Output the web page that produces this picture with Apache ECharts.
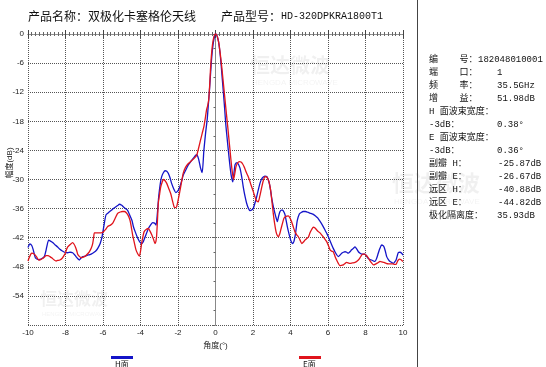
<!DOCTYPE html>
<html>
<head>
<meta charset="utf-8">
<script src="https://cdn.jsdelivr.net/npm/echarts@6/dist/echarts.min.js"></script>
<style>
html,body{margin:0;padding:0;background:#fff;}
#c{width:546px;height:367px;}
</style>
</head>
<body>
<div id="c"></div>
<script>
// ---- data ----
const titleName = '产品名称：双极化卡塞格伦天线';
const titleModelLabel = '产品型号：';
const titleModel = 'HD-320DPKRA1800T1';
const xTickMin = -10, xTickMax = 10, xTickStep = 2;
const yTickMin = -60, yTickMax = 0, yTickStep = 6;
const xAxisTitle = '角度(°)';
const yAxisTitle = '幅度(dB)';
const seriesNames = ['H面', 'E面'];
const infoLabels = ['编    号：', '端    口：', '频    率：', '增    益：', 'H 面波束宽度：', '-3dB：', 'E 面波束宽度：', '-3dB：', '副瓣 H：', '副瓣 E：', '远区 H：', '远区 E：', '极化隔离度：'];
const infoValues = ['182048010001', '1', '35.5GHz', '51.98dB', '', '0.38°', '', '0.36°', '-25.87dB', '-26.67dB', '-40.88dB', '-44.82dB', '35.93dB'];

const hPlane = [[-10,-44.0],[-9.9,-43.3],[-9.8,-43.6],[-9.72,-44.5],[-9.6,-46.2],[-9.45,-46.5],[-9.3,-46.4],[-9.13,-45.9],[-9.05,-44.8],[-9.0,-43.9],[-8.9,-42.5],[-8.8,-42.7],[-8.68,-43.0],[-8.55,-43.5],[-8.42,-43.9],[-8.3,-44.4],[-8.19,-44.7],[-8.05,-45.0],[-7.88,-45.1],[-7.75,-45.0],[-7.62,-45.1],[-7.5,-45.6],[-7.44,-45.9],[-7.35,-46.3],[-7.26,-46.6],[-7.15,-46.1],[-7.08,-45.9],[-6.95,-45.8],[-6.82,-45.6],[-6.7,-45.5],[-6.55,-45.2],[-6.4,-44.8],[-6.28,-44.2],[-6.15,-43.2],[-6.05,-41.8],[-5.95,-39.5],[-5.84,-37.3],[-5.7,-36.8],[-5.57,-36.4],[-5.45,-36.0],[-5.31,-35.6],[-5.2,-35.3],[-5.13,-35.1],[-5.0,-35.3],[-4.92,-35.6],[-4.8,-36.0],[-4.68,-36.4],[-4.56,-37.5],[-4.45,-38.5],[-4.38,-39.7],[-4.28,-40.8],[-4.17,-41.9],[-4.05,-42.8],[-3.94,-43.2],[-3.85,-42.8],[-3.76,-41.9],[-3.65,-40.8],[-3.58,-40.1],[-3.45,-39.3],[-3.35,-38.9],[-3.25,-39.0],[-3.17,-39.4],[-3.1,-37.0],[-3.04,-34.0],[-2.99,-32.2],[-2.93,-30.5],[-2.87,-29.4],[-2.78,-28.6],[-2.69,-28.2],[-2.6,-28.3],[-2.52,-28.7],[-2.43,-29.6],[-2.34,-30.8],[-2.22,-32.0],[-2.12,-32.7],[-2.02,-32.4],[-1.93,-31.8],[-1.82,-30.5],[-1.72,-29.1],[-1.58,-28.0],[-1.45,-27.0],[-1.3,-26.2],[-1.18,-25.6],[-1.08,-25.1],[-1.0,-24.9],[-0.9,-25.8],[-0.8,-27.6],[-0.71,-28.6],[-0.62,-24.0],[-0.53,-20.5],[-0.44,-17.5],[-0.38,-14.5],[-0.32,-11.5],[-0.26,-8.0],[-0.21,-5.2],[-0.15,-2.8],[-0.09,-1.2],[-0.03,-0.2],[0.02,0],[0.08,-0.4],[0.16,-1.5],[0.23,-3.5],[0.3,-6.3],[0.36,-9.2],[0.43,-12.5],[0.49,-15.5],[0.55,-18.7],[0.62,-21.5],[0.69,-24.2],[0.76,-26.8],[0.83,-29.0],[0.92,-30.5],[0.98,-28.8],[1.04,-27.0],[1.1,-26.6],[1.16,-26.5],[1.24,-27.0],[1.31,-27.7],[1.4,-29.5],[1.48,-31.5],[1.57,-33.4],[1.66,-34.9],[1.75,-35.9],[1.84,-36.4],[1.93,-36.3],[2.02,-35.9],[2.1,-34.9],[2.2,-33.5],[2.28,-32.2],[2.37,-30.8],[2.46,-29.9],[2.55,-29.5],[2.64,-29.3],[2.73,-29.4],[2.8,-29.9],[2.87,-30.8],[2.94,-32.3],[3.0,-33.9],[3.08,-35.5],[3.17,-37.0],[3.24,-38.0],[3.3,-38.7],[3.37,-37.5],[3.44,-36.6],[3.52,-36.3],[3.58,-36.3],[3.65,-36.7],[3.71,-37.3],[3.77,-38.5],[3.83,-39.7],[3.92,-41.2],[4.01,-42.5],[4.07,-43.0],[4.12,-43.2],[4.18,-42.8],[4.24,-41.8],[4.3,-40.2],[4.36,-38.5],[4.47,-37.1],[4.57,-36.8],[4.68,-36.6],[4.8,-36.6],[4.95,-36.8],[5.08,-37.0],[5.22,-37.2],[5.35,-37.6],[5.45,-37.9],[5.57,-38.6],[5.7,-39.4],[5.84,-40.4],[5.93,-41.1],[6.02,-41.8],[6.1,-42.6],[6.2,-43.5],[6.28,-44.2],[6.37,-44.9],[6.46,-45.5],[6.55,-45.9],[6.64,-45.6],[6.73,-45.2],[6.82,-45.0],[6.91,-44.9],[7.0,-45.0],[7.08,-45.2],[7.17,-44.9],[7.26,-44.5],[7.35,-44.2],[7.44,-43.9],[7.53,-44.3],[7.62,-44.9],[7.71,-45.2],[7.8,-45.4],[7.88,-45.4],[7.97,-45.4],[8.06,-45.8],[8.15,-46.3],[8.24,-46.5],[8.33,-46.6],[8.42,-46.8],[8.51,-46.9],[8.6,-46.2],[8.68,-45.2],[8.77,-44.2],[8.86,-43.5],[8.93,-43.6],[8.99,-43.9],[9.06,-44.8],[9.13,-45.9],[9.22,-46.5],[9.31,-46.9],[9.4,-47.1],[9.49,-47.3],[9.56,-47.0],[9.63,-46.6],[9.69,-45.8],[9.75,-45.1],[9.84,-45.0],[9.93,-45.2],[10,-45.6]];

const ePlane = [[-10,-46.8],[-9.92,-46.0],[-9.85,-45.4],[-9.79,-45.2],[-9.7,-45.3],[-9.61,-45.6],[-9.52,-46.1],[-9.43,-46.6],[-9.33,-46.5],[-9.22,-46.3],[-9.13,-46.0],[-9.04,-45.7],[-8.93,-45.7],[-8.83,-45.9],[-8.72,-46.2],[-8.6,-46.6],[-8.5,-46.8],[-8.42,-46.7],[-8.3,-46.6],[-8.19,-46.3],[-8.1,-45.8],[-8.01,-45.2],[-7.95,-44.5],[-7.88,-43.9],[-7.75,-43.4],[-7.62,-43.0],[-7.55,-43.3],[-7.47,-43.9],[-7.4,-44.7],[-7.35,-45.4],[-7.25,-45.9],[-7.17,-46.1],[-7.05,-46.0],[-6.94,-45.8],[-6.84,-45.4],[-6.73,-44.9],[-6.63,-44.2],[-6.55,-43.2],[-6.5,-42.0],[-6.46,-41.0],[-6.35,-41.0],[-6.23,-41.0],[-6.1,-41.0],[-5.98,-40.8],[-5.86,-40.3],[-5.75,-39.7],[-5.6,-39.4],[-5.48,-39.0],[-5.35,-38.0],[-5.22,-37.0],[-5.08,-36.7],[-4.95,-36.6],[-4.86,-36.6],[-4.77,-36.8],[-4.66,-37.4],[-4.56,-38.4],[-4.49,-39.8],[-4.42,-41.4],[-4.33,-43.0],[-4.24,-44.5],[-4.15,-45.3],[-4.06,-45.8],[-4.0,-44.8],[-3.94,-43.2],[-3.87,-41.8],[-3.81,-40.8],[-3.7,-40.3],[-3.58,-40.1],[-3.5,-40.6],[-3.4,-41.4],[-3.3,-42.4],[-3.23,-43.2],[-3.18,-42.8],[-3.14,-41.6],[-3.09,-38.0],[-3.05,-34.9],[-2.98,-33.0],[-2.92,-31.5],[-2.85,-30.6],[-2.78,-30.0],[-2.7,-30.2],[-2.6,-30.8],[-2.5,-31.8],[-2.39,-32.9],[-2.3,-34.3],[-2.21,-35.6],[-2.14,-35.8],[-2.07,-35.6],[-1.98,-34.0],[-1.89,-32.2],[-1.8,-30.3],[-1.72,-28.7],[-1.6,-27.5],[-1.45,-26.7],[-1.3,-26.2],[-1.18,-25.8],[-1.08,-25.4],[-1.0,-25.0],[-0.9,-23.5],[-0.8,-21.9],[-0.71,-20.5],[-0.62,-19.1],[-0.55,-17.5],[-0.48,-15.7],[-0.42,-14.8],[-0.36,-13.5],[-0.31,-10.5],[-0.27,-7.5],[-0.22,-4.5],[-0.16,-2.2],[-0.1,-0.8],[-0.04,-0.1],[0,0],[0.06,-0.2],[0.12,-0.8],[0.2,-2.5],[0.3,-5.6],[0.39,-9.0],[0.48,-12.5],[0.57,-16.0],[0.66,-19.4],[0.75,-23.0],[0.83,-26.2],[0.9,-28.6],[0.96,-30.0],[1.02,-29.0],[1.09,-27.4],[1.18,-26.6],[1.27,-26.3],[1.36,-26.4],[1.45,-26.8],[1.54,-27.5],[1.63,-28.4],[1.72,-29.2],[1.81,-30.1],[1.9,-31.2],[1.99,-32.2],[2.08,-33.3],[2.16,-34.2],[2.22,-34.5],[2.28,-34.6],[2.36,-33.5],[2.47,-31.5],[2.56,-30.1],[2.64,-29.4],[2.73,-29.5],[2.82,-30.1],[2.88,-30.9],[2.94,-32.2],[3.01,-34.5],[3.08,-37.0],[3.15,-39.0],[3.23,-40.8],[3.29,-41.5],[3.35,-41.8],[3.42,-41.3],[3.48,-40.4],[3.56,-39.2],[3.65,-38.0],[3.76,-37.6],[3.88,-37.5],[3.97,-37.9],[4.06,-38.7],[4.15,-39.8],[4.24,-40.8],[4.33,-41.4],[4.42,-41.8],[4.51,-42.5],[4.6,-43.2],[4.69,-42.9],[4.77,-42.5],[4.86,-42.2],[4.95,-41.9],[5.04,-41.0],[5.13,-40.3],[5.22,-39.8],[5.31,-40.0],[5.4,-40.4],[5.5,-40.8],[5.57,-41.0],[5.66,-41.4],[5.8,-42.1],[5.93,-42.8],[6.02,-43.6],[6.11,-44.5],[6.2,-44.8],[6.28,-44.9],[6.37,-45.8],[6.46,-46.6],[6.55,-47.3],[6.64,-47.8],[6.73,-47.7],[6.82,-47.6],[6.91,-47.3],[7.0,-47.1],[7.08,-47.2],[7.17,-47.3],[7.3,-47.2],[7.44,-47.1],[7.56,-46.8],[7.68,-46.3],[7.76,-45.8],[7.85,-45.4],[7.94,-45.4],[8.03,-45.6],[8.12,-46.0],[8.2,-46.5],[8.3,-47.1],[8.42,-47.6],[8.51,-47.5],[8.6,-47.3],[8.69,-47.1],[8.77,-46.9],[8.88,-47.0],[8.99,-47.1],[9.1,-47.3],[9.22,-47.4],[9.35,-47.4],[9.45,-47.4],[9.55,-47.5],[9.63,-47.5],[9.69,-47.0],[9.75,-46.6],[9.82,-46.4],[9.88,-46.5],[9.94,-46.7],[10,-46.9]];

// ---- chart ----
const CJK = "'Liberation Mono','Noto Sans CJK SC'";
const SANS = "'Liberation Sans','Noto Sans CJK SC'";
const gridColor = '#555';
const chart = echarts.init(document.getElementById('c'), null, {renderer: 'canvas'});

const graphics = [];
// watermarks (faint)
const wm = [[40, 290, 17], [250, 55, 20], [392, 172, 22]];
wm.forEach(function (w) {
  graphics.push({type: 'text', left: w[0], top: w[1], silent: true, z: 0,
    style: {text: '恒达微波', fill: 'rgba(0,0,0,0.06)', font: 'bold ' + w[2] + 'px "Noto Sans CJK SC"'}});
  graphics.push({type: 'text', left: w[0] + 2, top: w[1] + w[2] + 4, silent: true, z: 0,
    style: {text: 'HENGDA MICROWAVE', fill: 'rgba(0,0,0,0.05)', font: Math.round(w[2] * 0.38) + 'px "Liberation Sans"'}});
});
// title
graphics.push({type: 'text', left: 28, top: 10, style: {text: titleName, fill: '#111', font: "12px 'Noto Sans CJK SC'"}});
graphics.push({type: 'text', left: 221, top: 10, style: {
  text: '{a|' + titleModelLabel + '}{b|' + titleModel + '}',
  rich: {a: {fontSize: 12, fontFamily: 'Noto Sans CJK SC', fill: '#111', color: '#111'},
         b: {fontSize: 10, fontFamily: 'Liberation Mono', color: '#111', fill: '#111'}}
}});
// y axis title (rotated)
graphics.push({type: 'text', x: 10, y: 163, rotation: Math.PI / 2, style: {
  text: yAxisTitle, fill: '#222', font: "8px " + SANS, align: 'center', verticalAlign: 'middle'}});
// right separator
graphics.push({type: 'line', shape: {x1: 417.5, y1: 0, x2: 417.5, y2: 367}, style: {stroke: '#444', lineWidth: 1}});
// info panel
infoLabels.forEach(function (lab, i) {
  const y = 55 + i * 13;
  graphics.push({type: 'text', left: 429, top: y, style: {text: lab, fill: '#111', font: "9px " + CJK}});
  if (infoValues[i]) {
    let vx = 497;
    if (i === 0) vx = 478;
    if (i >= 8 && i <= 11) vx = 498;
    graphics.push({type: 'text', left: vx, top: y, style: {text: infoValues[i], fill: '#111', font: "9px " + CJK}});
  }
});
// legend
const legendX = [122, 310];
const legendColors = ['#1414c8', '#e0141c'];
seriesNames.forEach(function (n, i) {
  graphics.push({type: 'rect', shape: {x: legendX[i] - 11, y: 356, width: 22, height: 3}, style: {fill: legendColors[i]}});
  graphics.push({type: 'text', left: legendX[i] - 7, top: 360, style: {text: n, fill: '#111', font: "8px 'Noto Sans CJK SC'"}});
});

function xAxisCfg(pos, showLabel) {
  return {
    type: 'value', position: pos, min: xTickMin, max: xTickMax, interval: xTickStep,
    name: showLabel ? xAxisTitle : '', nameLocation: 'middle', nameGap: 16,
    nameTextStyle: {fontSize: 8, color: '#222', fontFamily: SANS},
    axisLine: {show: true, lineStyle: {color: '#888', type: 'dotted'}},
    axisTick: {show: true, inside: true, length: 4, lineStyle: {color: '#444'}},
    minorTick: {show: true, splitNumber: 10, length: 2, lineStyle: {color: '#666'}},
    axisLabel: {show: showLabel, fontSize: 8, color: '#222', margin: 4, fontFamily: SANS},
    splitLine: {show: showLabel, lineStyle: {color: gridColor, type: 'dotted', width: 1}}
  };
}

chart.setOption({
  animation: false,
  backgroundColor: '#fff',
  grid: {left: 28, right: 143, top: 34, bottom: 42, containLabel: false, outerBoundsMode: 'none'},
  xAxis: [xAxisCfg('bottom', true), xAxisCfg('top', false)],
  yAxis: {
    type: 'value', min: yTickMin, max: yTickMax, interval: yTickStep,
    axisLine: {show: true, lineStyle: {color: '#888'}},
    axisTick: {show: true, length: 3, lineStyle: {color: '#666'}},
    minorTick: {show: true, splitNumber: 2, length: 2, lineStyle: {color: '#666'}},
    axisLabel: {fontSize: 8, color: '#222', margin: 4, fontFamily: SANS,
      formatter: function (v) { return v === yTickMin ? '' : String(v); }},
    splitLine: {show: true, lineStyle: {color: gridColor, type: 'dotted', width: 1}}
  },
  series: [
    {name: seriesNames[0], type: 'line', data: hPlane, showSymbol: false, smooth: 0.2,
     lineStyle: {color: legendColors[0], width: 1.3}, z: 3},
    {name: seriesNames[1], type: 'line', data: ePlane, showSymbol: false, smooth: 0.2,
     lineStyle: {color: legendColors[1], width: 1.3}, z: 4}
  ],
  graphic: graphics
});
</script>
</body>
</html>
